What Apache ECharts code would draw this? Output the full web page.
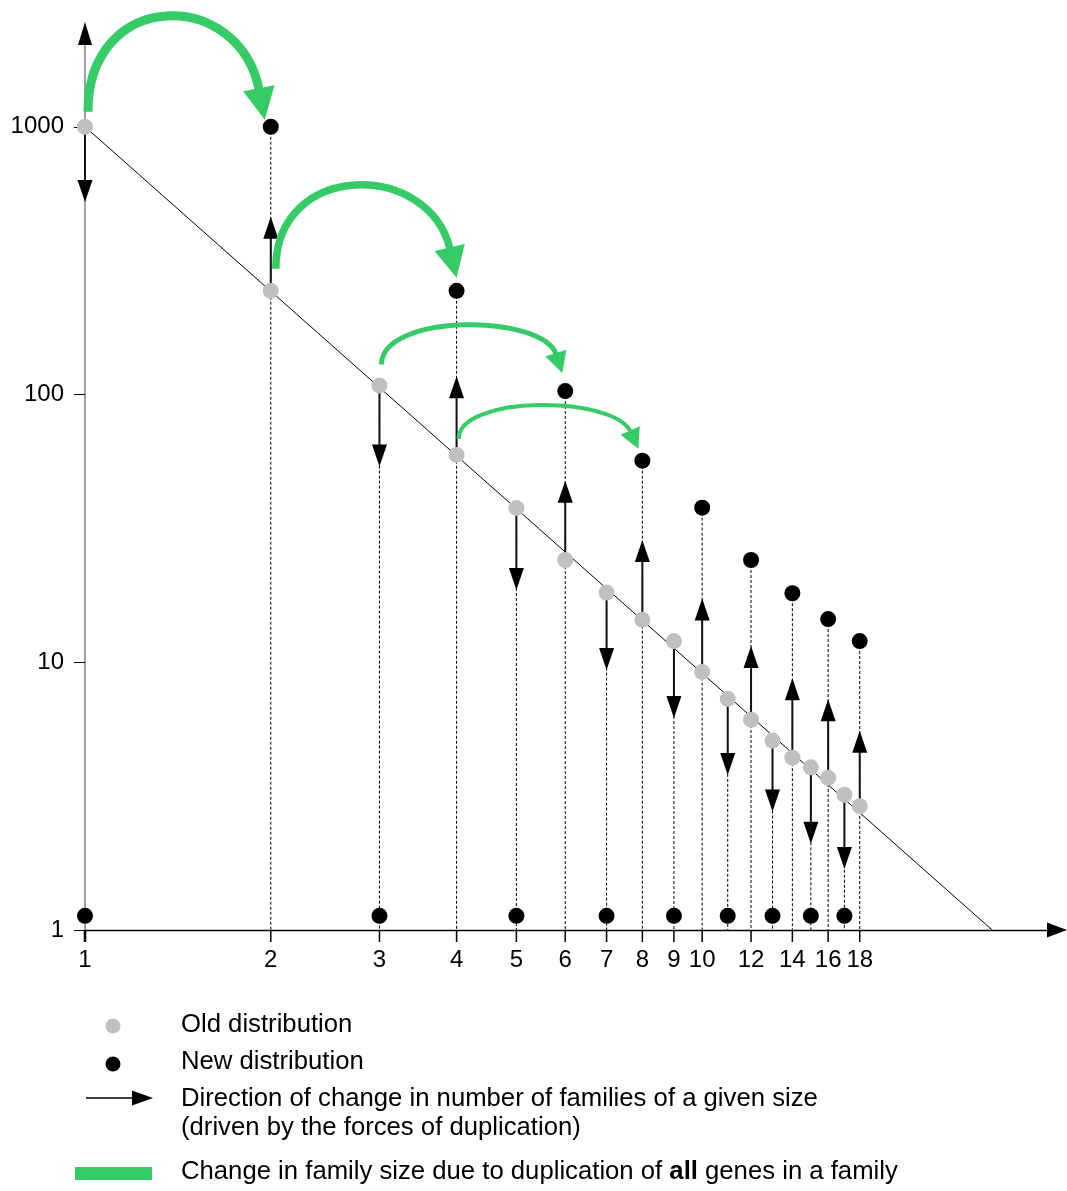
<!DOCTYPE html>
<html><head><meta charset="utf-8">
<script src="https://cdn.jsdelivr.net/npm/echarts@6/dist/echarts.min.js"></script>
<style>html,body{margin:0;padding:0;background:#fff}#c{width:1067px;height:1191px}</style>
</head><body><div id="c"></div>
<script>
// ---------- data ----------
const sizes      = [1, 2, 3, 4, 5, 6, 7, 8, 9, 10, 11, 12, 13, 14, 15, 16, 17, 18];
const oldDist    = [1000, 244, 108, 59.5, 37.7, 24.1, 18.2, 14.4, 12.0, 9.2, 7.3, 6.1, 5.1, 4.4, 4.05, 3.7, 3.2, 2.9];
const newDist    = [1.13, 1000, 1.13, 244, 1.13, 103, 1.13, 56.6, 1.13, 37.8, 1.13, 24.1, 1.13, 18.1, 1.13, 14.5, 1.13, 12.0];
const changeTo   = [524, 461, 53.8, 117, 18.6, 47.6, 9.36, 28.6, 6.19, 17.3, 3.79, 11.5, 2.77, 8.71, 2.10, 7.28, 1.69, 5.55];
const xTickLabels = [1, 2, 3, 4, 5, 6, 7, 8, 9, 10, 12, 14, 16, 18];
const yTickLabels = [1, 10, 100, 1000];
const fitLine    = [[1, 1000], [29.5, 1]];
const arcFrom    = [[1, 1000], [2, 244], [3, 108], [4, 59.5]];
const arcTo      = [[2, 1000], [4, 244], [6, 103], [8, 56.6]];
const X_MAX = 36.2, Y_MAX = 2020;

// ---------- styles ----------
const FONT = '"Liberation Sans", Arial, Helvetica, sans-serif';
const GREEN = '#35cb66', GRAY = '#c0c0c0';
const arcStyles = [
  {lw: 9,   headL: 32, headW: 32, rise: 96, sOff: [3, -15], tOff: [-6, -7],  tilt: 0.19},
  {lw: 7.5, headL: 31, headW: 31, rise: 84, sOff: [5, -22], tOff: [0, -13],  tilt: 0.23},
  {lw: 5,   headL: 21, headW: 22, rise: 40, sOff: [2, -21], tOff: [-3, -18], tilt: 0.32},
  {lw: 4,   headL: 20, headW: 21, rise: 34, sOff: [2, -16], tOff: [-4, -12], tilt: 0.45}
];

const chart = echarts.init(document.getElementById('c'));

const dottedData = sizes.map((s, i) => [s, Math.max(oldDist[i], newDist[i])]).filter(d => d[0] >= 2);
const arrowData = sizes.map((s, i) => [s, oldDist[i], changeTo[i]]);
const arcData = arcFrom.map((f, i) => [f[0], f[1], arcTo[i][0], arcTo[i][1], i]);

function arrowItem(params, api) {
  const s = api.value(0), from = api.value(1), to = api.value(2);
  const p0 = api.coord([s, from]), p1 = api.coord([s, to]);
  const dir = p1[1] > p0[1] ? 1 : -1;
  const L = 22, W = 15;
  const base = p1[1] - dir * L;
  return {type: 'group', children: [
    {type: 'line', shape: {x1: p0[0], y1: p0[1], x2: p0[0], y2: base + dir * 2}, style: {stroke: '#111', lineWidth: 2}},
    {type: 'polygon', shape: {points: [[p1[0] - W / 2, base], [p1[0] + W / 2, base], [p1[0], p1[1]]]}, style: {fill: '#000', stroke: null}}
  ]};
}

function arcItem(params, api) {
  const st = arcStyles[api.value(4)];
  const a = api.coord([api.value(0), api.value(1)]);
  const b = api.coord([api.value(2), api.value(3)]);
  const S = [a[0] + st.sOff[0], a[1] + st.sOff[1]];
  const T = [b[0] + st.tOff[0], b[1] + st.tOff[1]];
  const n = Math.hypot(st.tilt, 1), ux = st.tilt / n, uy = 1 / n;
  const E = [T[0] - ux * st.headL, T[1] - uy * st.headL];
  const peakY = S[1] - st.rise;
  const cpY = (peakY - (S[1] + E[1]) / 8) / 0.75;
  const k = (E[1] - cpY) / uy;
  const P2 = [E[0] - ux * k, cpY];
  const El = [E[0] + ux * 2, E[1] + uy * 2];
  const px = uy, py = -ux;
  return {type: 'group', children: [
    {type: 'bezierCurve', shape: {x1: S[0], y1: S[1], cpx1: S[0], cpy1: cpY, cpx2: P2[0], cpy2: P2[1], x2: El[0], y2: El[1]},
      style: {stroke: GREEN, lineWidth: st.lw, fill: 'none', lineCap: 'butt'}},
    {type: 'polygon', shape: {points: [[T[0], T[1]], [E[0] + px * st.headW / 2, E[1] + py * st.headW / 2], [E[0] - px * st.headW / 2, E[1] - py * st.headW / 2]]},
      style: {fill: GREEN, stroke: null}}
  ]};
}

function tickItem(params, api) {
  const v = api.value(0);
  const p = api.coord([v, 1]);
  return {type: 'group', children: [
    {type: 'line', shape: {x1: p[0], y1: p[1], x2: p[0], y2: p[1] + 12}, style: {stroke: '#000', lineWidth: v === 1 ? 2.5 : 1.5}},
    {type: 'text', style: {text: String(v), x: p[0], y: p[1] + 30, align: 'center', verticalAlign: 'middle', fontSize: 24, fontFamily: FONT, fill: '#000'}}
  ]};
}

function headItem(params, api) {
  const p = api.coord([api.value(0), api.value(1)]);
  const up = api.value(2) === 0;
  const pts = up ? [[p[0] - 7, p[1]], [p[0] + 7, p[1]], [p[0], p[1] - 23]]
                 : [[p[0], p[1] - 7.5], [p[0], p[1] + 7.5], [p[0] + 20, p[1]]];
  return {type: 'polygon', shape: {points: pts}, style: {fill: '#000', stroke: null}};
}

const textBase = {fontSize: 25.7, fontFamily: FONT, fill: '#000', verticalAlign: 'middle', align: 'left'};

chart.setOption({
  animation: false,
  backgroundColor: '#fff',
  grid: {left: 85, right: 20, top: 45, bottom: 261, containLabel: false, outerBoundsMode: 'none'},
  xAxis: {type: 'log', logBase: 10, min: 1, max: X_MAX,
    axisLine: {show: true, lineStyle: {color: '#000', width: 1.3}},
    axisTick: {show: false}, axisLabel: {show: false}, splitLine: {show: false}, minorTick: {show: false}},
  yAxis: {type: 'log', logBase: 10, min: 1, max: Y_MAX,
    axisLine: {show: true, lineStyle: {color: '#808080', width: 1.5}},
    axisTick: {show: true, length: 11, lineStyle: {color: '#000', width: 1}, customValues: yTickLabels},
    axisLabel: {show: true, margin: 21, fontSize: 24, fontFamily: FONT, color: '#000',
      customValues: yTickLabels, formatter: v => String(Math.round(v))},
    splitLine: {show: false}, minorTick: {show: false}},
  series: [
    {type: 'custom', name: 'guides', z: 1, silent: true, data: dottedData,
      renderItem: (params, api) => {
        const s = api.value(0), top = api.value(1);
        const p1 = api.coord([s, top]), p0 = api.coord([s, 1]);
        return {type: 'line', shape: {x1: p1[0], y1: p1[1], x2: p0[0], y2: p0[1]}, style: {stroke: '#000', lineWidth: 1, lineDash: [3, 2]}};
      }},
    {type: 'line', name: 'fit', z: 2, data: fitLine, symbol: 'none', lineStyle: {color: '#000', width: 1}, silent: true},
    {type: 'custom', name: 'xticks', z: 2, silent: true, data: xTickLabels.map(v => [v]), renderItem: tickItem},
    {type: 'custom', name: 'axisHeads', z: 2, silent: true, data: [[1, Y_MAX, 0], [X_MAX, 1, 1]], renderItem: headItem},
    {type: 'custom', name: 'change', z: 3, silent: true, data: arrowData, renderItem: arrowItem},
    {type: 'scatter', name: 'Old distribution', z: 4, symbolSize: 16, itemStyle: {color: GRAY, opacity: 1}, data: sizes.map((s, i) => [s, oldDist[i]])},
    {type: 'scatter', name: 'New distribution', z: 5, symbolSize: 16, itemStyle: {color: '#000', opacity: 1}, data: sizes.map((s, i) => [s, newDist[i]])},
    {type: 'custom', name: 'duplication', z: 6, silent: true, data: arcData, renderItem: arcItem}
  ],
  graphic: [
    {type: 'circle', shape: {cx: 113, cy: 1026, r: 7.5}, style: {fill: GRAY}},
    {type: 'circle', shape: {cx: 113, cy: 1064, r: 7.5}, style: {fill: '#000'}},
    {type: 'line', shape: {x1: 86, y1: 1098, x2: 134, y2: 1098}, style: {stroke: '#000', lineWidth: 1.5}},
    {type: 'polygon', shape: {points: [[132, 1090.5], [132, 1105.5], [153, 1098]]}, style: {fill: '#000'}},
    {type: 'rect', shape: {x: 75, y: 1167, width: 77, height: 13}, style: {fill: GREEN}},
    {type: 'text', x: 181, y: 1025, style: Object.assign({text: 'Old distribution'}, textBase)},
    {type: 'text', x: 181, y: 1062, style: Object.assign({text: 'New distribution'}, textBase)},
    {type: 'text', x: 181, y: 1099, style: Object.assign({text: 'Direction of change in number of families of a given size'}, textBase)},
    {type: 'text', x: 181, y: 1128, style: Object.assign({text: '(driven by the forces of duplication)'}, textBase)},
    {type: 'text', x: 181, y: 1172, style: Object.assign({
      text: 'Change in family size due to duplication of {b|all} genes in a family',
      rich: {b: {fontWeight: 'bold', fontSize: 25.7, fontFamily: FONT, fill: '#000'}}}, textBase)}
  ]
});
</script>
</body></html>
